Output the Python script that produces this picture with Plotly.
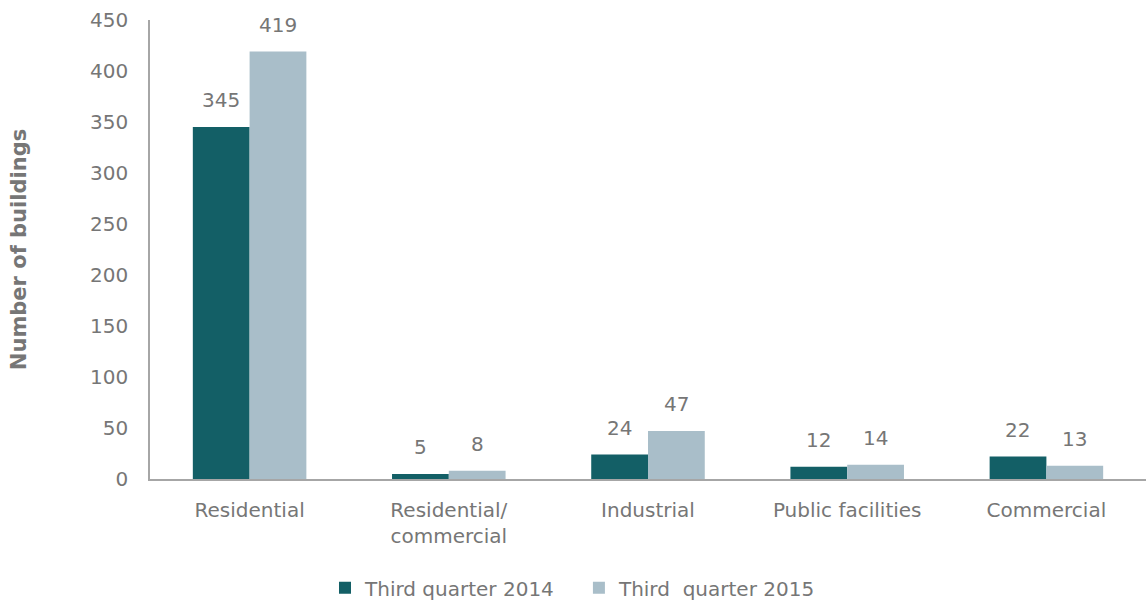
import plotly.graph_objects as go

categories = ["Residential", "Residential/<br>commercial", "Industrial", "Public facilities", "Commercial"]
q3_2014 = [345, 5, 24, 12, 22]
q3_2015 = [419, 8, 47, 14, 13]
series_names = ["Third quarter 2014\u00a0\u00a0\u00a0", "Third\u00a0 quarter 2015"]
y_ticks = [0, 50, 100, 150, 200, 250, 300, 350, 400, 450]

DARK = "#135F66"
LIGHT = "#A9BEC9"
GRAY = "#767676"
FONT = "DejaVu Sans, Verdana, sans-serif"

fig = go.Figure()
series = [(series_names[0], q3_2014, DARK, -1), (series_names[1], q3_2015, LIGHT, 1)]
for name, vals, col, side in series:
    fig.add_trace(go.Bar(
        x=categories, y=vals, name=name, marker=dict(color=col, line=dict(width=0)),
    ))

annotations = []
for name, vals, col, side in series:
    for c, v in zip(categories, vals):
        annotations.append(dict(
            x=c, y=v, xref="x", yref="y", text=str(v), showarrow=False,
            xanchor="center", yanchor="bottom", xshift=side * 28.5, yshift=13,
            font=dict(size=20, color=GRAY, family=FONT),
        ))

fig.update_layout(
    width=1146, height=603,
    margin=dict(l=150, r=0, t=20, b=124, autoexpand=False),
    paper_bgcolor="white", plot_bgcolor="white",
    barmode="group", bargap=0.43, bargroupgap=0,
    font=dict(family=FONT, color=GRAY, size=20),
    showlegend=True,
    annotations=annotations,
    legend=dict(orientation="h", x=0.1757, xanchor="left", y=-0.237, yanchor="middle",
                font=dict(size=20, color=GRAY, family=FONT), itemwidth=30,
                traceorder="normal"),
    xaxis=dict(showline=True, linecolor="#A6A6A6", linewidth=1.5, ticks="",
               tickfont=dict(size=20, color=GRAY), ticklabelstandoff=12, automargin=False),
    yaxis=dict(range=[0, 450], tickvals=y_ticks, showgrid=False, zeroline=False,
               showline=True, linecolor="#A6A6A6", linewidth=1.5, ticks="",
               tickfont=dict(size=20, color=GRAY), ticklabelstandoff=16, automargin=False,
               title=dict(text="<b>Number of buildings</b>", font=dict(size=21, color=GRAY), standoff=58)),
)

fig.write_html("out.html", config={"displayModeBar": False},
               post_script="document.body.style.margin='0';document.body.style.overflow='hidden';")
